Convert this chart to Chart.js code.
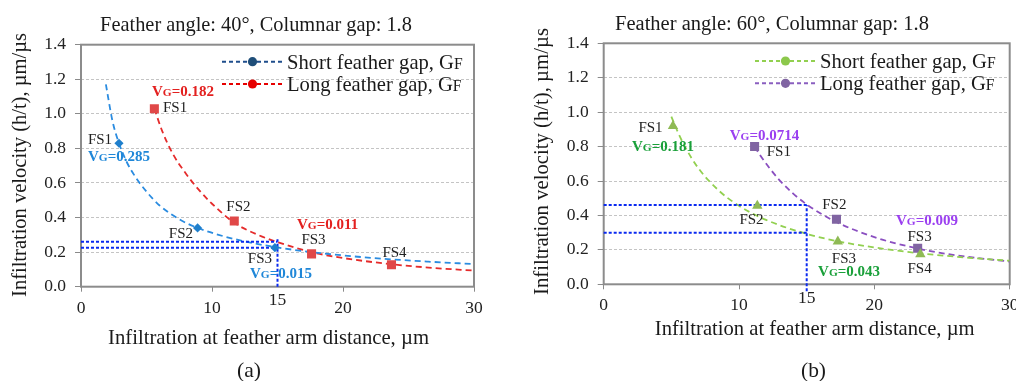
<!DOCTYPE html>
<html><head><meta charset="utf-8">
<script src="https://cdn.jsdelivr.net/npm/chart.js@4/dist/chart.umd.min.js"></script>
<style>
html,body{margin:0;padding:0;background:#fff;overflow:hidden;width:1016px;height:381px}
#ca{position:absolute;left:0;top:0}
#cb{position:absolute;left:508px;top:0}
</style></head><body>
<canvas id="ca" width="500" height="381"></canvas>
<canvas id="cb" width="540" height="381"></canvas>
<script>
const FONT = '"Liberation Serif", "Times New Roman", serif';

// ---- shared axes ----
const xTicks = [0, 10, 20, 30];
const yTicks = [0, 0.2, 0.4, 0.6, 0.8, 1.0, 1.2, 1.4];
const xExtraTick = 15;

// ---- panel (a): feather angle 40 ----
const aTitle = 'Feather angle: 40°, Columnar gap: 1.8';
const aShortX = [2.9, 8.9, 14.8];
const aShortY = [0.83, 0.34, 0.226];
const aShortFitX = [1.9, 2.4, 2.9, 3.5, 4.2, 5, 6, 7.5, 8.9, 10.5, 12.5, 15, 17.5, 20, 23, 26.5, 30];
const aShortFitY = [1.17, 0.96, 0.83, 0.72, 0.63, 0.55, 0.47, 0.39, 0.34, 0.30, 0.262, 0.227, 0.201, 0.181, 0.162, 0.145, 0.131];
const aLongX = [5.6, 11.7, 17.6, 23.7];
const aLongY = [1.03, 0.38, 0.19, 0.127];
const aLongFitX = [5.6, 6.2, 7, 8, 9, 10, 11.7, 13.5, 15, 17.6, 20, 23.7, 27, 30];
const aLongFitY = [1.03, 0.90, 0.77, 0.655, 0.56, 0.48, 0.37, 0.30, 0.258, 0.20, 0.166, 0.13, 0.108, 0.093];
const aRefX = 15;
const aRefY = [0.26, 0.226];
const aRefTop = 0.274;
const aRefBottom = 0;

// ---- panel (b): feather angle 60 ----
const bTitle = 'Feather angle: 60°, Columnar gap: 1.8';
const bShortX = [5.12, 11.35, 17.3, 23.4];
const bShortY = [0.92, 0.457, 0.248, 0.174];
const bShortFitX = [5, 5.5, 6, 7, 8.5, 10, 12, 15, 17.3, 20, 23.4, 27, 30];
const bShortFitY = [0.974, 0.88, 0.80, 0.674, 0.545, 0.456, 0.374, 0.293, 0.25, 0.214, 0.18, 0.154, 0.137];
const bLongX = [11.15, 17.2, 23.2];
const bLongY = [0.80, 0.378, 0.209];
const bLongFitX = [11.15, 11.6, 12.3, 13, 14, 15, 17, 20, 23.2, 26, 30];
const bLongFitY = [0.80, 0.745, 0.67, 0.604, 0.527, 0.464, 0.369, 0.274, 0.208, 0.169, 0.132];
const bRefX = 15;
const bRefY = [0.461, 0.30];
const bRefTop = 0.461;
const bRefBottom = -0.04;

const seriesNames = [['Short feather gap, G', 'F'], ['Long feather gap, G', 'F']];
const xTitle = 'Infiltration at feather arm distance, µm';
const yTitle = 'Infiltration velocity (h/t), µm/µs';

function pts(xs, ys) { return xs.map((x, i) => ({ x, y: ys[i] })); }

function rich(ctx, segs, x, y, align, size, bold, color) {
  const fnt = s => `${bold ? 'bold ' : ''}${size * s}px ${FONT}`;
  const w = segs.map(([t, s]) => { ctx.font = fnt(s); return ctx.measureText(t).width; });
  const tot = w.reduce((p, c) => p + c, 0);
  let sx = align === 'center' ? x - tot / 2 : align === 'right' ? x - tot : x;
  ctx.fillStyle = color; ctx.textAlign = 'left'; ctx.textBaseline = 'alphabetic';
  const by = y + size * 0.34;
  segs.forEach(([t, s], i) => { ctx.font = fnt(s); ctx.fillText(t, sx, by); sx += w[i]; });
}

function fitted(ctx, text, cx, cy, target, color, rot) {
  ctx.font = `100px ${FONT}`;
  const size = 100 * target / ctx.measureText(text).width;
  ctx.save(); ctx.translate(cx, cy); if (rot) ctx.rotate(-Math.PI / 2);
  ctx.font = `${size}px ${FONT}`; ctx.textAlign = 'center'; ctx.textBaseline = 'alphabetic';
  ctx.fillStyle = color; ctx.fillText(text, 0, size * 0.34); ctx.restore();
}

function vg(v) { return [['V', 1], ['G', 0.76], ['=' + v, 1]]; }

function makeChart(id, P) {
  const datasets = [];
  P.series.forEach(s => {
    datasets.push({ data: pts(s.fx, s.fy), showLine: true, pointRadius: 0, borderColor: s.line,
      borderWidth: 1.8, borderDash: [6, 4], cubicInterpolationMode: 'monotone', fill: false, order: 2 });
    datasets.push({ data: pts(s.x, s.y), showLine: false, pointStyle: s.shape, pointRadius: s.r,
      backgroundColor: s.mark, borderColor: s.mark, borderWidth: 0, order: 0 });
  });
  const refStyle = { showLine: true, pointRadius: 0, borderColor: '#0a2af0', borderWidth: 2, borderDash: [3, 2], order: 1, clip: false };
  P.refY.forEach(r => datasets.push(Object.assign({ data: [{ x: 0, y: r }, { x: P.refX, y: r }] }, refStyle)));
  datasets.push(Object.assign({ data: [{ x: P.refX, y: P.refBottom }, { x: P.refX, y: P.refTop }] }, refStyle));

  const deco = {
    id: 'deco',
    beforeDatasetsDraw(chart) {
      const { ctx, chartArea: a } = chart;
      ctx.save(); ctx.strokeStyle = '#8c8c8c'; ctx.lineWidth = 2;
      ctx.strokeRect(a.left, a.top, a.right - a.left, a.bottom - a.top); ctx.restore();
    },
    afterDraw(chart) {
      const { ctx, chartArea: a } = chart;
      const xs = chart.scales.x, ys = chart.scales.y;
      ctx.save();
      fitted(ctx, P.title, P.titlePos[0], P.titlePos[1], P.titleW, '#1a1a1a', false);
      fitted(ctx, xTitle, P.xtPos[0], P.xtPos[1], P.xtW, '#1a1a1a', false);
      fitted(ctx, yTitle, P.ytPos[0], P.ytPos[1], P.ytW, '#1a1a1a', true);
      fitted(ctx, P.tag, P.tagPos[0], P.tagPos[1], P.tagW, '#1a1a1a', false);
      // extra x label
      ctx.font = `17.5px ${FONT}`; ctx.fillStyle = '#222'; ctx.textAlign = 'center'; ctx.textBaseline = 'middle';
      ctx.fillText(String(xExtraTick), xs.getPixelForValue(xExtraTick), a.bottom + P.extraDy);
      // legend
      P.series.forEach((s, i) => {
        const lx = a.left + P.leg[0], ly = a.top + P.leg[1] + i * P.leg[2];
        ctx.save(); ctx.strokeStyle = s.legLine; ctx.lineWidth = 2; ctx.setLineDash([4, 3]);
        ctx.beginPath(); ctx.moveTo(lx, ly); ctx.lineTo(lx + 61, ly); ctx.stroke(); ctx.restore();
        ctx.fillStyle = s.legMark; ctx.beginPath(); ctx.arc(lx + 30.5, ly, 4.6, 0, Math.PI * 2); ctx.fill();
        rich(ctx, [[seriesNames[i][0], 1], [seriesNames[i][1], 0.76]], lx + 65, ly, 'left', 20.6, false, '#1a1a1a');
      });
      // point labels
      P.labels.forEach(L => {
        const px = xs.getPixelForValue(L.x), py = ys.getPixelForValue(L.y);
        if (L.v) rich(ctx, vg(L.v), px, py, L.al, 15, true, L.c);
        else rich(ctx, [[L.t, 1]], px, py, L.al, 15, false, '#222');
      });
      ctx.restore();
    }
  };

  return new Chart(document.getElementById(id), {
    type: 'scatter',
    data: { datasets },
    options: {
      responsive: false, animation: false, events: [],
      layout: { padding: { left: 0, top: P.top, right: P.right, bottom: P.bottom } },
      plugins: { legend: { display: false }, title: { display: false }, tooltip: { enabled: false } },
      scales: {
        x: {
          type: 'linear', min: 0, max: 30,
          afterBuildTicks: s => { s.ticks = xTicks.map(v => ({ value: v })); },
          afterFit: s => { s.height = 40; },
          grid: { drawOnChartArea: false, drawTicks: true, tickLength: 5, tickColor: '#8a8a8a', tickWidth: 1 },
          border: { display: false },
          ticks: { font: { family: FONT, size: 17.5 }, color: '#222', padding: 6, maxRotation: 0, autoSkip: false, callback: v => String(v) }
        },
        y: {
          type: 'linear', min: 0, max: 1.4,
          afterBuildTicks: s => { s.ticks = yTicks.map(v => ({ value: v })); },
          afterFit: s => { s.width = P.yw; },
          grid: { color: c => (c.tick && (c.tick.value <= 0 || c.tick.value >= 1.39)) ? 'rgba(0,0,0,0)' : '#c4c4c4',
                  lineWidth: 1, tickColor: '#8a8a8a', tickLength: 6, tickBorderDash: [] },
          border: { display: false, dash: [3, 2] },
          ticks: { font: { family: FONT, size: 17.5 }, color: '#222', padding: 9, autoSkip: false, callback: v => Number(v).toFixed(1) }
        }
      }
    },
    plugins: [deco]
  });
}

makeChart('ca', {
  title: aTitle, titlePos: [256, 24], titleW: 312,
  xtPos: [268.5, 336.7], xtW: 321, ytPos: [19, 165], ytW: 264,
  tag: '(a)', tagPos: [249, 370], tagW: 24,
  top: 44.7, right: 26, bottom: 381 - 286.7 - 40, yw: 81, extraDy: 13.5,
  leg: [141, 17, 22.3],
  refX: aRefX, refY: aRefY, refTop: aRefTop, refBottom: aRefBottom,
  series: [
    { x: aShortX, y: aShortY, fx: aShortFitX, fy: aShortFitY, line: '#2b8ce0', mark: '#1f7fcc', shape: 'rectRot', r: 4.6, legLine: '#1f4e8c', legMark: '#1f4e79' },
    { x: aLongX, y: aLongY, fx: aLongFitX, fy: aLongFitY, line: '#e52b2b', mark: '#e04848', shape: 'rect', r: 6.4, legLine: '#e60000', legMark: '#e60000' }
  ],
  labels: [
    { t: 'FS1', x: 1.45, y: 0.854, al: 'center' },
    { v: '0.285', x: 0.53, y: 0.756, al: 'left', c: '#1f87d8' },
    { v: '0.182', x: 5.42, y: 1.134, al: 'left', c: '#e3201f' },
    { t: 'FS1', x: 6.26, y: 1.039, al: 'left' },
    { t: 'FS2', x: 12.02, y: 0.468, al: 'center' },
    { t: 'FS2', x: 7.63, y: 0.311, al: 'center' },
    { v: '0.011', x: 16.49, y: 0.361, al: 'left', c: '#e3201f' },
    { t: 'FS3', x: 17.75, y: 0.274, al: 'center' },
    { t: 'FS3', x: 13.66, y: 0.164, al: 'center' },
    { v: '0.015', x: 12.9, y: 0.0775, al: 'left', c: '#1f87d8' },
    { t: 'FS4', x: 23.93, y: 0.202, al: 'center' }
  ]
});

makeChart('cb', {
  title: bTitle, titlePos: [264, 23.3], titleW: 314,
  xtPos: [306.7, 327.7], xtW: 320, ytPos: [33, 161.5], ytW: 267,
  tag: '(b)', tagPos: [305.5, 370], tagW: 25,
  top: 43.3, right: 38.3, bottom: 381 - 284.3 - 40, yw: 95.7, extraDy: 14,
  leg: [151.3, 17.7, 22.3],
  refX: bRefX, refY: bRefY, refTop: bRefTop, refBottom: bRefBottom,
  series: [
    { x: bShortX, y: bShortY, fx: bShortFitX, fy: bShortFitY, line: '#92d050', mark: '#8fba55', shape: 'triangle', r: 6, legLine: '#92d050', legMark: '#8cc84b' },
    { x: bLongX, y: bLongY, fx: bLongFitX, fy: bLongFitY, line: '#8a4fc0', mark: '#8064a2', shape: 'rect', r: 6.4, legLine: '#8a5fc0', legMark: '#8064a2' }
  ],
  labels: [
    { t: 'FS1', x: 3.46, y: 0.912, al: 'center' },
    { v: '0.181', x: 2.09, y: 0.805, al: 'left', c: '#1aa03a' },
    { v: '0.0714', x: 9.31, y: 0.868, al: 'left', c: '#9b3ff0' },
    { t: 'FS1', x: 12.94, y: 0.776, al: 'center' },
    { t: 'FS2', x: 17.04, y: 0.467, al: 'center' },
    { t: 'FS2', x: 10.92, y: 0.378, al: 'center' },
    { v: '0.009', x: 21.6, y: 0.374, al: 'left', c: '#9b3ff0' },
    { t: 'FS3', x: 23.34, y: 0.281, al: 'center' },
    { t: 'FS3', x: 17.75, y: 0.155, al: 'center' },
    { v: '0.043', x: 15.84, y: 0.077, al: 'left', c: '#1aa03a' },
    { t: 'FS4', x: 23.34, y: 0.093, al: 'center' }
  ]
});
</script>
</body></html>
